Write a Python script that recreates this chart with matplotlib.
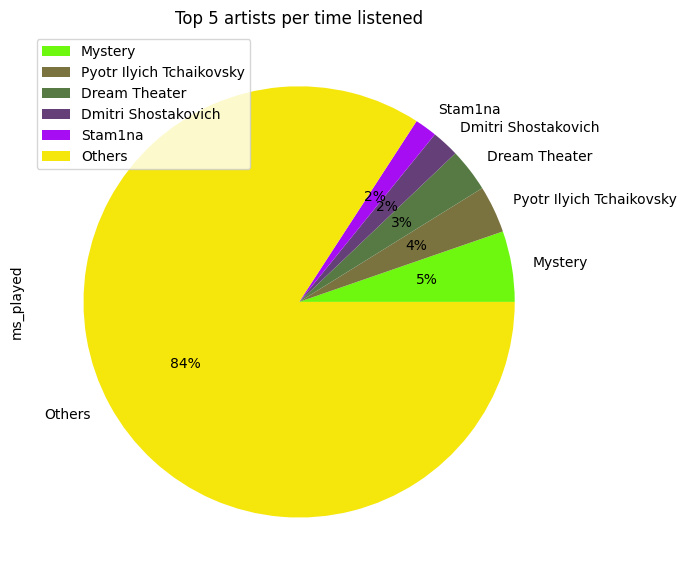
import matplotlib
matplotlib.use("Agg")
import matplotlib.pyplot as plt

# share of total listening time (percent)
artists = ["Mystery", "Pyotr Ilyich Tchaikovsky", "Dream Theater",
           "Dmitri Shostakovich", "Stam1na", "Others"]
ms_played = [5.3, 3.55, 3.25, 2.06, 1.67, 84.17]
colors = ["#6ef80f", "#7a7340", "#577a45", "#653f78", "#a60df3", "#f5e60c"]

fig = plt.figure(figsize=(6.87, 5.81), dpi=100)
ax = fig.add_axes([0.0431, 0.0165, 0.7846, 0.9277])
ax.pie(ms_played, labels=artists, colors=colors, autopct="%1.0f%%")
ax.set_ylabel("ms_played")
ax.set_title("Top 5 artists per time listened")
ax.legend(loc="upper left")

fig.savefig("out.png", dpi=100)
